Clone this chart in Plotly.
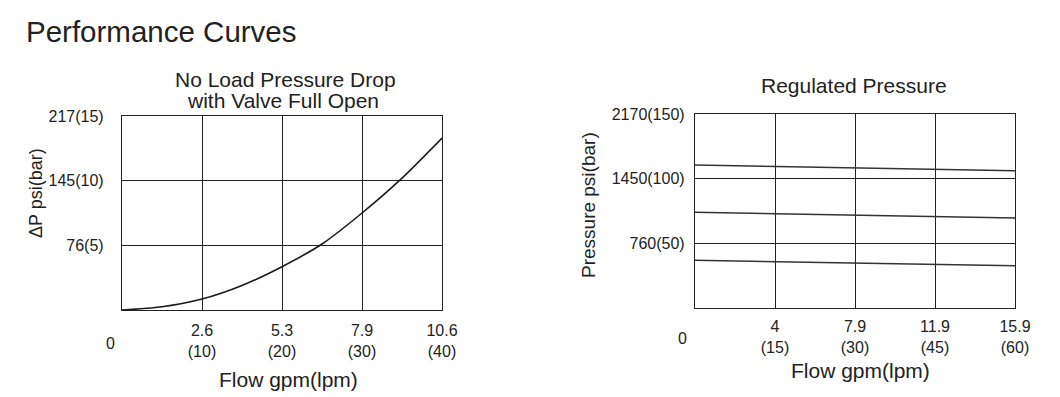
import plotly.graph_objects as go

# ---- data ----
flow_lpm_left = [0, 5, 10, 15, 20, 25, 30, 35, 40]
dp_bar = [0, 0.25, 0.85, 1.9, 3.35, 5.1, 7.5, 10.2, 13.3]

flow_lpm_right = [0, 30, 60]
reg_high = [110.6, 108.5, 106.2]
reg_mid = [74.0, 71.7, 69.6]
reg_low = [36.9, 34.6, 32.7]

left_xticks = [10, 20, 30, 40]
left_xtext = ["2.6<br>(10)", "5.3<br>(20)", "7.9<br>(30)", "10.6<br>(40)"]
left_yticks = [5, 10, 15]
left_ytext = ["76(5)", "145(10)", "217(15)"]

right_xticks = [15, 30, 45, 60]
right_xtext = ["4<br>(15)", "7.9<br>(30)", "11.9<br>(45)", "15.9<br>(60)"]
right_yticks = [50, 100, 150]
right_ytext = ["760(50)", "1450(100)", "2170(150)"]

W, H = 1060, 397
FONT = "Liberation Sans, Arial, sans-serif"
INK = "#222222"


def px(x):
    return x / W


def py(y):
    return 1 - y / H


fig = go.Figure()
fig.add_trace(go.Scatter(x=flow_lpm_left, y=dp_bar, mode="lines",
                         line=dict(color="#1a1a1a", width=1.6, shape="spline", smoothing=0.8),
                         xaxis="x", yaxis="y", showlegend=False, hoverinfo="skip"))
for ys in (reg_high, reg_mid, reg_low):
    fig.add_trace(go.Scatter(x=flow_lpm_right, y=ys, mode="lines",
                             line=dict(color="#333333", width=1.5),
                             xaxis="x2", yaxis="y2", showlegend=False, hoverinfo="skip"))

axis_common = dict(showline=True, mirror=True, linecolor=INK, linewidth=1.3,
                   showgrid=True, gridcolor=INK, gridwidth=1.3, zeroline=False,
                   ticks="", tickfont=dict(family=FONT, size=16, color=INK),
                   fixedrange=True, automargin=False)

fig.update_layout(
    template="none",
    width=W, height=H, margin=dict(l=0, r=0, t=0, b=0, autoexpand=False),
    paper_bgcolor="white", plot_bgcolor="white", showlegend=False,
    xaxis=dict(domain=[px(122), px(442)], range=[0, 40], tickvals=left_xticks,
               ticktext=left_xtext, anchor="y", ticklabelstandoff=6, **axis_common),
    yaxis=dict(domain=[py(310), py(116)], range=[0, 15], tickvals=left_yticks,
               ticktext=left_ytext, anchor="x", ticklabelstandoff=14, **axis_common),
    xaxis2=dict(domain=[px(695), px(1015)], range=[0, 60], tickvals=right_xticks,
                ticktext=right_xtext, anchor="y2", ticklabelstandoff=4, **axis_common),
    yaxis2=dict(domain=[py(308), py(114)], range=[0, 150], tickvals=right_yticks,
                ticktext=right_ytext, anchor="x2", ticklabelstandoff=6, **axis_common),
)

def ann(text, x, y, size, xanchor="center", angle=0):
    fig.add_annotation(text=text, x=px(x), y=py(y), xref="paper", yref="paper",
                       showarrow=False, xanchor=xanchor, yanchor="middle",
                       textangle=angle, font=dict(family=FONT, size=size, color=INK))

ann("Performance Curves", 24, 32, 29.5, xanchor="left")
ann("No Load Pressure Drop", 285, 79, 21)
ann("with Valve Full Open", 283, 100, 21)
ann("Regulated Pressure", 854, 85, 21)
ann("Flow gpm(lpm)", 288, 379, 21)
ann("Flow gpm(lpm)", 860, 370, 21)
ann("ΔP psi(bar)", 36, 193, 18, angle=-90)
ann("Pressure psi(bar)", 589, 205, 19, angle=-90)
ann("0", 110, 343, 16)
ann("0", 682, 338, 16)

fig.write_html("out.html")
